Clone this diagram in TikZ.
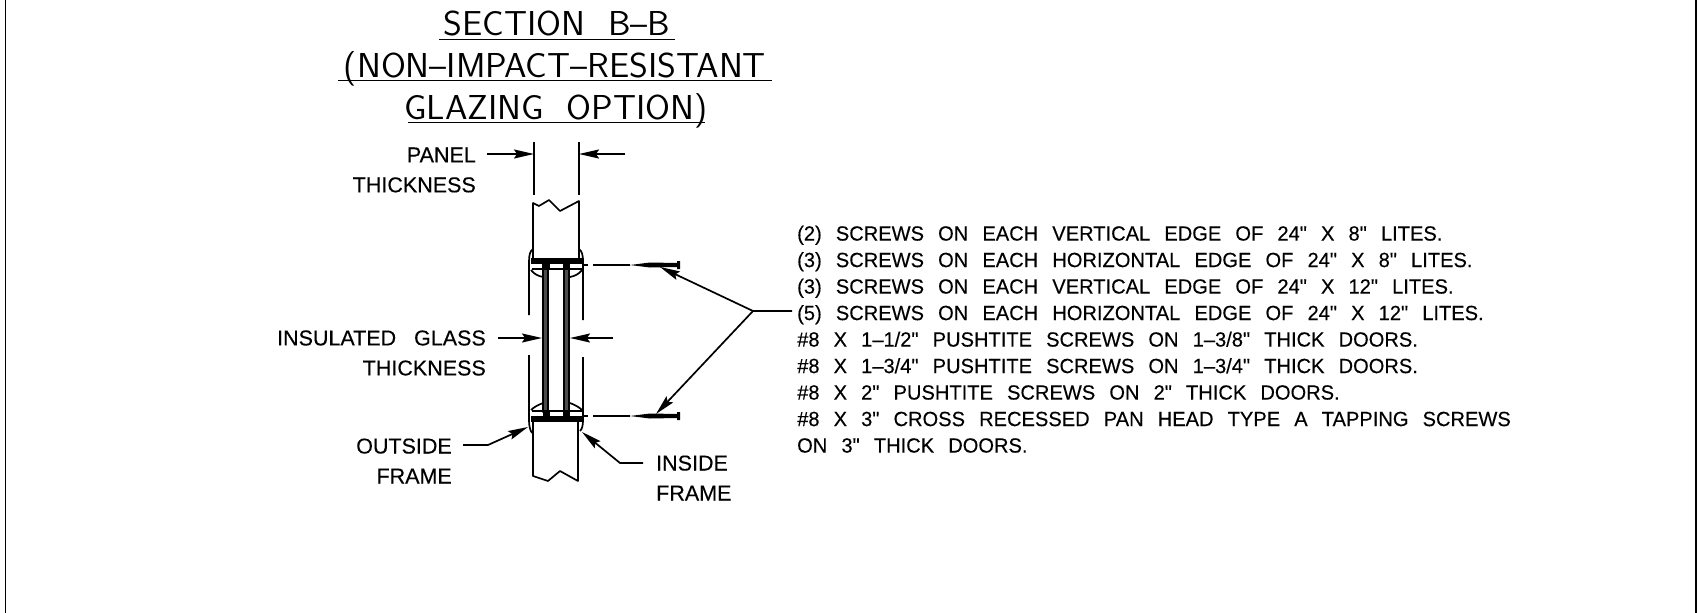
\documentclass[tikz,border=0pt]{standalone}
\usepackage{fontspec}
\setmainfont{Liberation Sans}
\newfontfamily\titlefont[FakeStretch=1.04,WordSpace=2]{Latin Modern Sans}
\newfontfamily\notefont[FakeStretch=0.98,WordSpace=2.53,FakeBold=0.25]{Liberation Sans}
\newfontfamily\labelfont[WordSpace=3,FakeBold=0.25]{Liberation Sans}
\usetikzlibrary{positioning}
\usetikzlibrary{arrows.meta}

\begin{document}
\begin{tikzpicture}[
		x=1pt, y=-1pt,
		title/.style={inner sep=0pt, anchor=base, font=\titlefont\fontsize{34.6}{34.6}\selectfont},
		tag/.style={inner sep=0pt, align=right, font=\labelfont\fontsize{21.5}{30}\selectfont},
		note/.style={inner sep=0pt, align=left, font=\notefont\fontsize{20.5}{26.5}\selectfont},
		part/.style={line width=1.7pt, line join=round},
		arrow/.style={-{Stealth[length=20pt, width=9pt, inset=3pt]}, line width=1.7pt},
		rule/.style={line width=1.7pt}
		]
		\useasboundingbox (0,0) rectangle (1698,613);
		
		% Sheet edges
		\draw[part] (5.5,0) -- (5.5,613);
		\draw[part] (1696,0) -- (1696,613);
		
		% Title
		\node[title] (title_a) at (557,35.5) {SECTION B–B};
		\node[title] (title_b) at (555,77) {(NON–IMPACT–RESISTANT};
		\node[title] (title_c) at (556,119) {GLAZING OPTION)};
		\draw[rule] (439,39.5) -- (675,39.5);
		\draw[rule] (338,80.5) -- (772,80.5);
		\draw[rule] (408,122.5) -- (705,122.5);
		
		% Labels
		\node[tag, anchor=east] (panel) at (476,170) {PANEL\\THICKNESS};
		\node[tag, anchor=east] (glass) at (486,353) {INSULATED GLASS\\THICKNESS};
		\node[tag, anchor=east] (outside) at (452,461) {OUTSIDE\\FRAME};
		\node[tag, anchor=west, align=left] (inside) at (656,478) {INSIDE\\FRAME};
		\node[note, anchor=north west] (notes) at (797,225.5) {(2) SCREWS ON EACH VERTICAL EDGE OF 24" X 8" LITES.\\
			(3) SCREWS ON EACH HORIZONTAL EDGE OF 24" X 8" LITES.\\
			(3) SCREWS ON EACH VERTICAL EDGE OF 24" X 12" LITES.\\
			(5) SCREWS ON EACH HORIZONTAL EDGE OF 24" X 12" LITES.\\
			\#8 X 1–1/2" PUSHTITE SCREWS ON 1–3/8" THICK DOORS.\\
			\#8 X 1–3/4" PUSHTITE SCREWS ON 1–3/4" THICK DOORS.\\
			\#8 X 2" PUSHTITE SCREWS ON 2" THICK DOORS.\\
			\#8 X 3" CROSS RECESSED PAN HEAD TYPE A TAPPING SCREWS\\
			ON 3" THICK DOORS.};
		
		% Panel and glass
		\draw[part] (534,142) -- (534,195);
		\draw[part] (579,142) -- (579,195);
		\draw[part] (533,258) -- (533,203) -- (539,206) -- (549,200) -- (560,211) -- (579,201) -- (579,258);
		\draw[part] (533,422) -- (533,476) -- (548,481) -- (560,471) -- (578,481) -- (578,422);
		\foreach \glassx in {543,564}
			\draw[part, fill=black!70] (\glassx,262) rectangle (\glassx+5,412);
		
		% Frames
		\draw[part] (529,315) -- (529,262) .. controls (529,255) and (530,251) .. (533,249);
		\draw[part] (583,320) -- (583,262) .. controls (583,255) and (582,251) .. (579,249);
		\draw[part] (529,355) -- (529,420) .. controls (529,426) and (530,430) .. (532,433);
		\draw[part] (583,357) -- (583,420) .. controls (583,426) and (582,429) .. (580,431);
		
		% Gaskets
		\draw[part] (531,270) .. controls (534,274) and (538,276) .. (543,277);
		\draw[part] (570,277) .. controls (575,276) and (579,274) .. (582,270);
		\draw[part] (531,410) .. controls (534,407) and (538,405) .. (543,403);
		\draw[part] (570,403) .. controls (575,405) and (579,407) .. (582,410);
		\fill (531,258) rectangle (584,264);
		\fill (543,258) rectangle (550,270);
		\fill (563,258) rectangle (570,270);
		\fill (532,268) rectangle (584,270);
		\fill (531,416) rectangle (584,422);
		\fill (543,410) rectangle (550,422);
		\fill (563,410) rectangle (570,422);
		\fill (532,410) rectangle (584,412);
		
		% Screws
		\foreach \screwy/\screwname/\tipx/\tipy in {265/upper/660/267,416/lower/656/414} {
			\draw[part] (584,\screwy) -- (588,\screwy);
			\draw[part] (593,\screwy) -- (630,\screwy);
			\fill (630,\screwy) -- (650,\screwy-2.5) -- (677,\screwy-2) -- (677,\screwy-4) -- (680,\screwy-4) -- (680,\screwy+4) -- (677,\screwy+4) -- (677,\screwy+2) -- (650,\screwy+2.5) -- cycle;
			\coordinate (screw_\screwname) at (\tipx,\tipy);
		}
		
		% Coordinates
		\coordinate (panel_l) at (487,154);
		\coordinate (panel_lt) at (534,154);
		\coordinate (panel_r) at (625,154);
		\coordinate (panel_rt) at (579,154);
		\coordinate (glass_l) at (498,338);
		\coordinate (glass_lt) at (542,338);
		\coordinate (glass_r) at (613,338);
		\coordinate (glass_rt) at (570,338);
		\coordinate (outside_a) at (463,445);
		\coordinate (outside_b) at (488,445);
		\coordinate (outside_t) at (528,427);
		\coordinate (inside_a) at (643,463);
		\coordinate (inside_b) at (620,463);
		\coordinate (inside_t) at (582,432);
		\coordinate (notes_a) at (792,311);
		\coordinate (notes_b) at (753,311);
		
		% Arrows
		\draw[arrow] (panel_l) -- (panel_lt);
		\draw[arrow] (panel_r) -- (panel_rt);
		\draw[arrow] (glass_l) -- (glass_lt);
		\draw[arrow] (glass_r) -- (glass_rt);
		\draw[arrow] (outside_a) -- (outside_b) -- (outside_t);
		\draw[arrow] (inside_a) -- (inside_b) -- (inside_t);
		\draw[arrow] (notes_a) -- (notes_b) -- (screw_upper);
		\draw[arrow] (notes_b) -- (screw_lower);
	\end{tikzpicture}
\end{document}
